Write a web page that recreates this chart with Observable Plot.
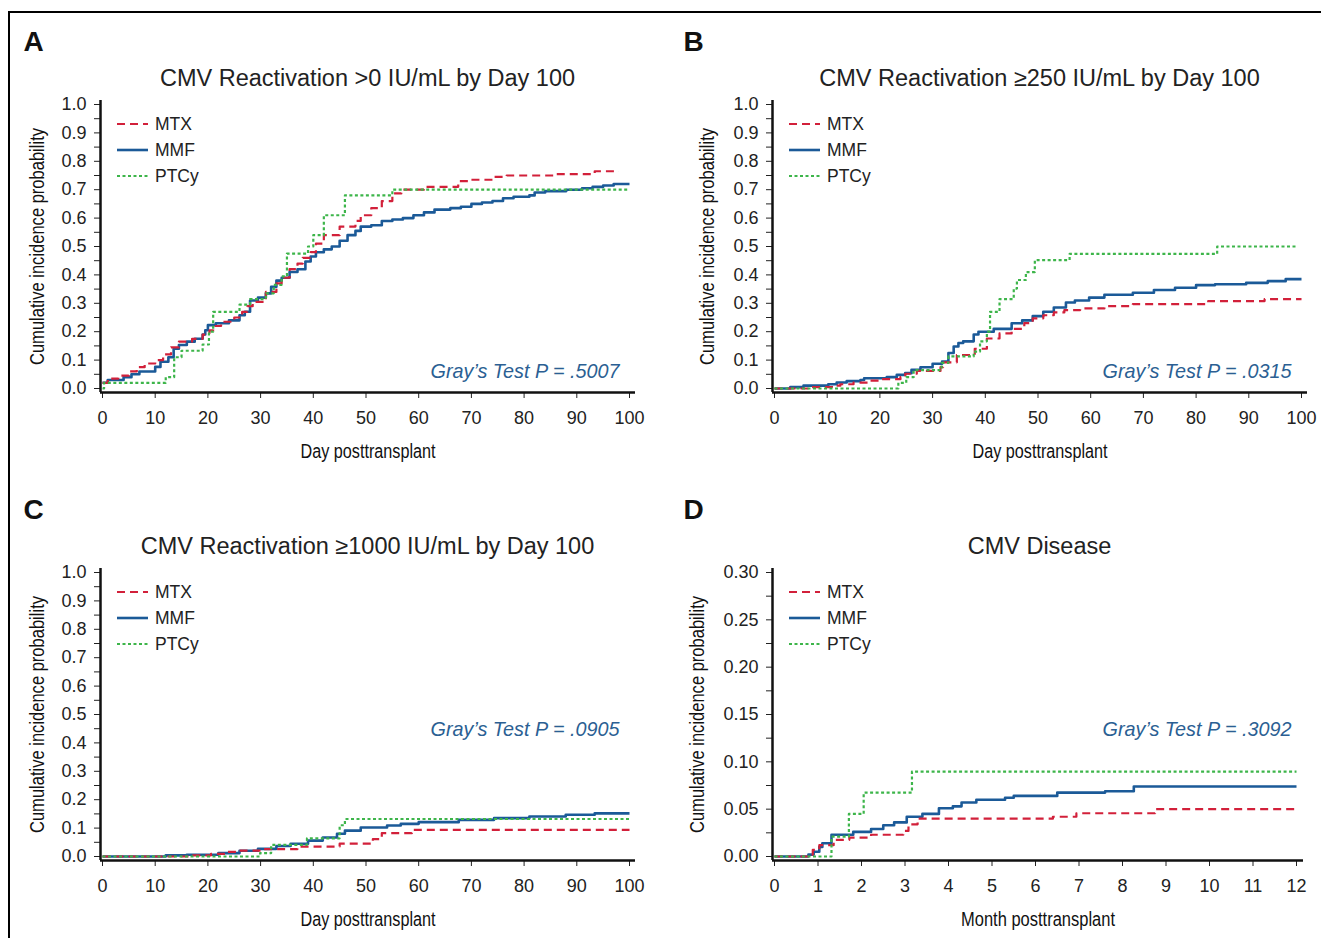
<!DOCTYPE html>
<html><head><meta charset="utf-8">
<script src="https://cdn.jsdelivr.net/npm/d3@7"></script>
<script src="https://cdn.jsdelivr.net/npm/@observablehq/plot@0.6"></script>
<style>
html,body{margin:0;padding:0;background:#fff;}
#page{position:relative;width:1321px;height:938px;overflow:hidden;background:#fff;}
#border{position:absolute;left:8px;top:11px;width:1400px;height:1000px;border-left:2px solid #000;border-top:2px solid #000;}
.panel{position:absolute;width:660px;height:469px;}
.panel svg{overflow:visible;}
.panel svg .tick line{stroke:#111;stroke-width:1.7px;}
.panel svg .tick text{fill:#222;}
</style></head><body><div id="page"><div id="border"></div></div>
<script>
// ---------- text & categories ----------
const series = ["MTX", "MMF", "PTCy"];
const panelLetters = ["A", "B", "C", "D"];
const panelTitles = [
  "CMV Reactivation >0 IU/mL by Day 100",
  "CMV Reactivation \u2265250 IU/mL by Day 100",
  "CMV Reactivation \u22651000 IU/mL by Day 100",
  "CMV Disease"
];
const pValues = [".5007", ".0315", ".0905", ".3092"];
const xTitles = ["Day posttransplant", "Day posttransplant", "Day posttransplant", "Month posttransplant"];
const yTitle = "Cumulative incidence probability";

// ---------- tick labels ----------
const dayTicks = [0, 10, 20, 30, 40, 50, 60, 70, 80, 90, 100];
const monthTicks = [0, 1, 2, 3, 4, 5, 6, 7, 8, 9, 10, 11, 12];
const probTicks = [0, 0.1, 0.2, 0.3, 0.4, 0.5, 0.6, 0.7, 0.8, 0.9, 1.0];
const probMinor = [0.05, 0.15, 0.25, 0.35, 0.45, 0.55, 0.65, 0.75, 0.85, 0.95];
const diseaseTicks = [0, 0.05, 0.10, 0.15, 0.20, 0.25, 0.30];
const diseaseMinor = [0.025, 0.075, 0.125, 0.175, 0.225, 0.275];

// ---------- series values: [time, cumulative incidence] at each step ----------
const aMTX = [[0,0.02],[1,0.035],[3,0.045],[5,0.06],[6.5,0.075],[8,0.088],[10,0.10],[11.5,0.12],[13,0.145],[14.5,0.165],[17,0.175],[19,0.19],[20.3,0.205],[21,0.22],[22.5,0.235],[25,0.25],[26.5,0.27],[27.5,0.29],[28.5,0.305],[31,0.34],[33,0.37],[34,0.39],[35.5,0.42],[37,0.44],[38,0.46],[39.5,0.48],[40.5,0.51],[42,0.54],[45,0.57],[48,0.59],[49,0.61],[51,0.635],[53,0.66],[55,0.687],[56.7,0.70],[61,0.71],[67.5,0.73],[70,0.735],[74,0.745],[76.7,0.75],[86,0.755],[93.4,0.765],[98,0.765]];
const aMMF = [[0,0.02],[1,0.03],[4,0.04],[5.5,0.05],[7,0.06],[10,0.076],[11,0.094],[12.5,0.11],[13.5,0.14],[14.5,0.153],[16,0.165],[17.5,0.175],[19,0.19],[19.5,0.205],[20,0.223],[21.5,0.23],[24,0.24],[26,0.258],[27,0.27],[28,0.31],[29.5,0.32],[31,0.335],[32,0.358],[33,0.38],[34,0.39],[35.5,0.41],[37,0.42],[38.5,0.447],[39.5,0.465],[40.5,0.48],[42,0.49],[43.5,0.50],[45,0.52],[46.5,0.54],[48,0.555],[49,0.57],[51,0.575],[53,0.59],[55,0.595],[57,0.60],[59,0.61],[61,0.62],[63,0.63],[66,0.635],[68,0.64],[70,0.65],[72,0.655],[74,0.66],[76,0.67],[78,0.675],[81,0.68],[82,0.69],[84,0.695],[88,0.70],[91,0.705],[93,0.71],[95,0.715],[97,0.72],[100,0.72]];
const aPTCy = [[0,0],[0.3,0.02],[12,0.04],[13.6,0.11],[15,0.133],[19,0.155],[20.2,0.20],[21,0.27],[26,0.295],[28,0.315],[31,0.335],[32.5,0.365],[34,0.395],[35,0.475],[39,0.50],[40,0.54],[42,0.61],[46,0.68],[55,0.70],[100,0.70]];

const bMTX = [[0,0],[6.8,0.005],[10.9,0.01],[12.5,0.015],[15,0.021],[18.2,0.028],[20,0.033],[23.9,0.04],[24.8,0.052],[27,0.062],[31.5,0.075],[32,0.092],[34.6,0.118],[38,0.14],[40.3,0.176],[42.7,0.194],[45,0.21],[47.4,0.23],[49,0.247],[51,0.258],[53,0.268],[55,0.276],[58,0.282],[62.6,0.29],[68,0.297],[82.3,0.308],[93,0.315],[100,0.315]];
const bMMF = [[0,0],[3,0.005],[5.5,0.01],[10.2,0.015],[11.8,0.021],[13.7,0.026],[16.3,0.03],[17,0.036],[21.3,0.04],[23.2,0.048],[24.8,0.054],[26,0.066],[27.7,0.075],[30,0.087],[31.8,0.095],[33,0.125],[34,0.148],[34.9,0.16],[35.8,0.166],[37.8,0.19],[38.7,0.20],[41.6,0.21],[45,0.23],[47,0.24],[49,0.255],[51,0.27],[53,0.285],[55.3,0.303],[57,0.31],[59.7,0.32],[62.6,0.33],[68,0.337],[72,0.347],[76,0.355],[80,0.364],[83.6,0.367],[89.5,0.372],[93.6,0.378],[97,0.385],[100,0.385]];
const bPTCy = [[0,0],[23.5,0.02],[25,0.04],[26.4,0.065],[31.7,0.09],[33,0.113],[37.8,0.13],[39,0.166],[40.3,0.20],[40.9,0.27],[42.7,0.315],[45.4,0.352],[46,0.382],[47.7,0.41],[49.4,0.452],[56,0.474],[84,0.50],[99,0.50]];

const cMTX = [[0,0],[16.5,0.004],[20.6,0.009],[23.4,0.016],[26,0.021],[30,0.026],[37,0.035],[45,0.045],[51.3,0.061],[53,0.082],[58.7,0.094],[100,0.094]];
const cMMF = [[0,0],[12,0.004],[16,0.006],[22,0.012],[26,0.02],[29.5,0.027],[33,0.037],[35.7,0.045],[39,0.056],[41.8,0.067],[44.5,0.08],[46,0.091],[49,0.102],[54,0.109],[56.6,0.115],[60,0.121],[67.6,0.129],[74.3,0.135],[81,0.141],[87.9,0.147],[93.4,0.152],[100,0.152]];
const cPTCy = [[0,0],[29.9,0.012],[32,0.041],[38.8,0.064],[45,0.11],[46,0.132],[100,0.132]];

const dMTX = [[0,0],[0.88,0.007],[1.03,0.012],[1.36,0.0176],[1.72,0.02],[2.22,0.023],[2.96,0.027],[3.08,0.034],[3.29,0.04],[6.4,0.042],[6.94,0.0457],[8.75,0.05],[12,0.05]];
const dMMF = [[0,0],[0.78,0.002],[0.9,0.005],[1.03,0.01],[1.1,0.014],[1.31,0.023],[1.81,0.026],[2.22,0.029],[2.5,0.033],[2.75,0.036],[3.04,0.042],[3.4,0.045],[3.78,0.051],[4.1,0.053],[4.3,0.057],[4.64,0.06],[5.3,0.062],[5.5,0.064],[6.5,0.0675],[7.6,0.069],[8.26,0.074],[12,0.074]];
const dPTCy = [[0,0],[1.31,0.021],[1.71,0.045],[2.05,0.0675],[3.16,0.0897],[12,0.0897]];

// ---------- styles ----------
const SANS = "'Liberation Sans', Arial, Helvetica, sans-serif";
const styleOf = {
  MTX:  {stroke: "#d2203a", strokeWidth: 2.2, strokeDasharray: "8,5"},
  MMF:  {stroke: "#1b5a98", strokeWidth: 2.6, strokeDasharray: null},
  PTCy: {stroke: "#3db54a", strokeWidth: 2.2, strokeDasharray: "3,2.5"}
};
const drawOrder = ["MMF", "MTX", "PTCy"];

const panels = [
  {left: 0, top: 0, data: {MTX: aMTX, MMF: aMMF, PTCy: aPTCy}, xDomain: [0, 100], xEnd: 629, marginRight: 25,
   xTicks: dayTicks, yDomain: [0, 1], yMajor: probTicks, yMinor: probMinor, yFormat: d3.format(".1f"),
   letterX: 23, yTitleX: 37, pY: 271, xTitleLen: 135},
  {left: 672, top: 0, data: {MTX: bMTX, MMF: bMMF, PTCy: bPTCy}, xDomain: [0, 100], xEnd: 629, marginRight: 25,
   xTicks: dayTicks, yDomain: [0, 1], yMajor: probTicks, yMinor: probMinor, yFormat: d3.format(".1f"),
   letterX: 11, yTitleX: 35, pY: 271, xTitleLen: 135},
  {left: 0, top: 468, data: {MTX: cMTX, MMF: cMMF, PTCy: cPTCy}, xDomain: [0, 100], xEnd: 629, marginRight: 25,
   xTicks: dayTicks, yDomain: [0, 1], yMajor: probTicks, yMinor: probMinor, yFormat: d3.format(".1f"),
   letterX: 23, yTitleX: 37, pY: 161, xTitleLen: 135},
  {left: 672, top: 468, data: {MTX: dMTX, MMF: dMMF, PTCy: dPTCy}, xDomain: [0, 12], xEnd: 624, marginRight: 29,
   xTicks: monthTicks, yDomain: [0, 0.3], yMajor: diseaseTicks, yMinor: diseaseMinor, yFormat: d3.format(".2f"),
   letterX: 11, yTitleX: 25, pY: 161, xTitleLen: 154}
];

const page = document.getElementById("page");
const ML = 100, MT = 100;

panels.forEach((p, i) => {
  const majorSet = new Set(p.yMajor);
  const allYTicks = [...p.yMajor, ...p.yMinor].sort((a, b) => a - b);
  const curveMarks = drawOrder.map(s => Plot.line(p.data[s], {
    x: d => d[0], y: d => d[1], curve: "step-after",
    stroke: styleOf[s].stroke, strokeWidth: styleOf[s].strokeWidth,
    strokeDasharray: styleOf[s].strokeDasharray, strokeLinecap: "butt"
  }));
  const svg = Plot.plot({
    width: 660, height: 469,
    marginLeft: ML, marginTop: MT, marginRight: p.marginRight, marginBottom: 77,
    x: {domain: p.xDomain, range: [102, p.xEnd], ticks: p.xTicks, tickSize: 6, tickPadding: 13,
        tickFormat: d => String(d), label: null},
    y: {domain: p.yDomain, range: [388, 104], ticks: allYTicks, tickSize: 6, tickPadding: 8,
        tickFormat: d => majorSet.has(d) ? p.yFormat(d) : "", label: null},
    style: {background: "transparent", fontFamily: SANS, fontSize: "18px", color: "#222", overflow: "visible"},
    marks: [
      Plot.ruleY([p.yDomain[0]], {dy: 4, stroke: "#111", strokeWidth: 2.5}),
      Plot.ruleX([p.xDomain[0]], {dx: -2, stroke: "#111", strokeWidth: 2.5}),
      ...curveMarks,
      Plot.text([panelTitles[i]], {text: d => d, frameAnchor: "top-left", dx: 367 - ML, dy: 78 - MT,
        textAnchor: "middle", lineAnchor: "middle", fontSize: 23.5, fill: "#222", fontFamily: SANS}),
      Plot.text([panelLetters[i]], {text: d => d, frameAnchor: "top-left", dx: p.letterX - ML, dy: 42 - MT,
        textAnchor: "start", lineAnchor: "middle", fontSize: 28, fontWeight: "bold", fill: "#111", fontFamily: SANS}),
      Plot.text([yTitle], {text: d => d, frameAnchor: "left", dx: p.yTitleX - ML, rotate: -90,
        textAnchor: "middle", lineAnchor: "middle", fontSize: 20, fill: "#111", fontFamily: SANS}),
      Plot.text([xTitles[i]], {text: d => d, frameAnchor: "bottom", dy: 59,
        textAnchor: "middle", lineAnchor: "middle", fontSize: 20, fill: "#111", fontFamily: SANS}),
      Plot.text([`Gray\u2019s Test P = ${pValues[i]}`], {text: d => d, frameAnchor: "top-left", dx: 619 - ML, dy: p.pY,
        textAnchor: "end", lineAnchor: "middle", fontSize: 19.8, fontStyle: "italic", fill: "#2b5f93", fontFamily: SANS})
    ]
  });

  // condensed look for the axis titles (no condensed font installed)
  const sel = d3.select(svg);
  sel.selectAll("text").filter(function() { return this.textContent === yTitle; })
    .attr("textLength", 237).attr("lengthAdjust", "spacingAndGlyphs");
  sel.selectAll("text").filter(function() { return this.textContent === xTitles[i]; })
    .attr("textLength", p.xTitleLen).attr("lengthAdjust", "spacingAndGlyphs");

  // legend (decorative key)
  const g = sel.append("g").attr("class", "legend").attr("text-anchor", "start");
  series.forEach((s, k) => {
    const yy = 124 + k * 26;
    g.append("line").attr("x1", 117).attr("x2", 148).attr("y1", yy).attr("y2", yy)
      .attr("stroke", styleOf[s].stroke).attr("stroke-width", styleOf[s].strokeWidth)
      .attr("stroke-dasharray", styleOf[s].strokeDasharray);
    g.append("text").attr("x", 155).attr("y", yy).attr("dy", "0.35em").attr("text-anchor", "start")
      .attr("font-size", 17.5).attr("font-family", SANS).attr("fill", "#222").text(s);
  });

  const div = document.createElement("div");
  div.className = "panel";
  div.style.left = p.left + "px";
  div.style.top = p.top + "px";
  div.appendChild(svg);
  page.appendChild(div);
});
</script>
</body></html>
